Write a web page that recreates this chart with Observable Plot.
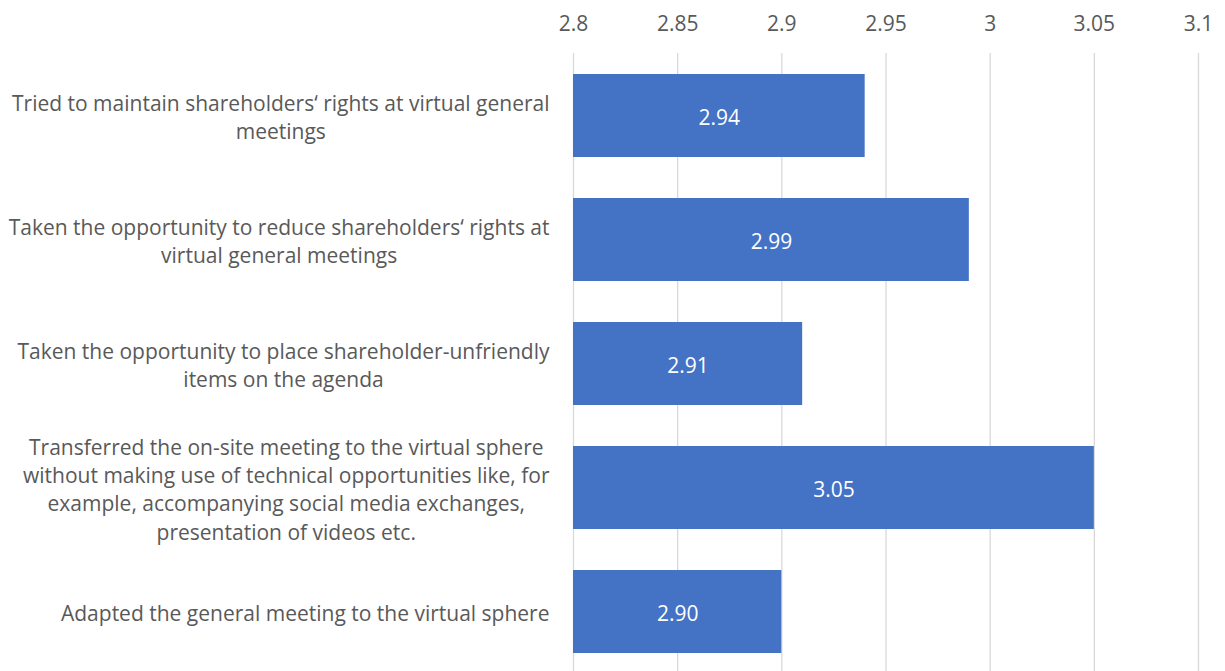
<!DOCTYPE html>
<html>
<head>
<meta charset="utf-8">
<script src="https://cdn.jsdelivr.net/npm/d3@7"></script>
<script src="https://cdn.jsdelivr.net/npm/@observablehq/plot@0.6"></script>
<style>
  html, body { margin: 0; padding: 0; background: #fff; overflow: hidden; }
</style>
</head>
<body>
<div id="chart"></div>
<script>
const categories = [
  "Tried to maintain shareholders\u2018 rights at virtual general\nmeetings",
  "Taken the opportunity to reduce shareholders\u2018 rights at\nvirtual general meetings",
  "Taken the opportunity to place shareholder-unfriendly\nitems on the agenda",
  "Transferred the on-site meeting to the virtual sphere\nwithout making use of technical opportunities like, for\nexample, accompanying social media exchanges,\npresentation of videos etc.",
  "Adapted the general meeting to the virtual sphere"
];
const values = [2.94, 2.99, 2.91, 3.05, 2.90];
const xTicks = [2.8, 2.85, 2.9, 2.95, 3, 3.05, 3.1];
const xMin = 2.8, xMax = 3.1;

const data = categories.map((c, i) => ({category: c, value: values[i]}));

const plot = Plot.plot({
  width: 1225,
  height: 671,
  marginLeft: 573,
  marginRight: 27,
  marginTop: 53,
  marginBottom: 0,
  style: {fontFamily: "'Open Sans', sans-serif", fontSize: "21px", color: "#595959", background: "#fff"},
  x: {domain: [xMin, xMax], axis: null, label: null},
  y: {domain: categories, range: [52.4, 673.6], paddingInner: 0.332, paddingOuter: 0.166, axis: null, label: null},
  marks: [
    Plot.gridX(xTicks, {stroke: "#d9d9d9", strokeOpacity: 1, strokeWidth: 1.3}),
    Plot.axisX(xTicks, {anchor: "top", label: null, tickSize: 0, tickPadding: 23, fill: "#595959", fontSize: 21,
      tickFormat: d => String(d)}),
    Plot.barX(data, {x1: () => xMin, x2: "value", y: "category", fill: "#4472C4"}),
    Plot.text(data, {x: d => (xMin + d.value) / 2, y: "category", text: d => d.value.toFixed(2),
      fill: "white", fontSize: 21, dy: 2}),
    Plot.axisY({label: null, tickSize: 0, tickPadding: 24, fill: "#595959", fontSize: 21, lineHeight: 1.35})
  ]
});

document.getElementById("chart").appendChild(plot);

// center the lines of each category label within its block, block right-aligned
plot.querySelectorAll('g[aria-label="y-axis tick label"] text').forEach(t => {
  const spans = t.querySelectorAll("tspan");
  let w = 0;
  if (spans.length) spans.forEach(s => { w = Math.max(w, s.getComputedTextLength()); });
  else w = t.getComputedTextLength();
  t.setAttribute("text-anchor", "middle");
  const tr = t.getAttribute("transform") || "";
  t.setAttribute("transform", tr + ` translate(${-w / 2},0)`);
});
</script>
</body>
</html>
